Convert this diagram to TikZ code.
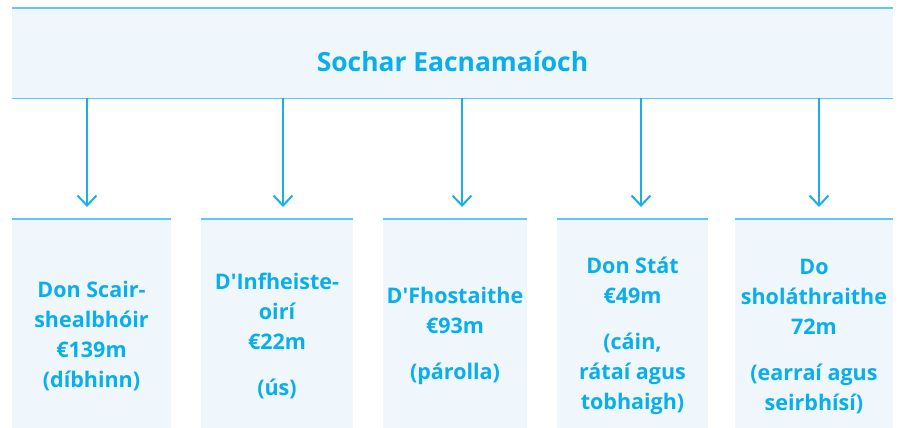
\documentclass[tikz,border=0pt]{standalone}
\usepackage{fontspec}
\setmainfont{Open Sans}[Ligatures=TeXOff]
\usetikzlibrary{arrows.meta}
\definecolor{boxfill}{HTML}{EFF7FD}
\definecolor{edge}{HTML}{5CC9F2}
\definecolor{arrowc}{HTML}{1CAEE8}
\definecolor{txt}{HTML}{0AAEEB}
\tikzset{
  topbox/.style={fill=boxfill, draw=none, minimum width=881pt, minimum height=90pt, anchor=north west, inner sep=0pt},
  lowbox/.style={fill=boxfill, draw=none, anchor=north, minimum height=234pt, inner sep=0pt, align=center, text=txt,
     font=\bfseries\fontsize{21.5}{30}\selectfont},
  edgeline/.style={draw=edge, line width=1.5pt},
  flow/.style={draw=arrowc, line width=2pt, -{Straight Barb[length=10pt,width=19pt,line width=2pt]}},
}
\begin{document}
\begin{tikzpicture}[x=1pt,y=-1pt]
\useasboundingbox (0,0) rectangle (898,428);
\clip (0,0) rectangle (898,428);
\node[topbox] (top) at (12,8) {};
\draw[edgeline] (top.north west) -- (top.north east);
\draw[edgeline] (top.south west) -- (top.south east);
\node[anchor=base, text=txt, font=\bfseries\fontsize{26.4}{30}\selectfont] (title) at (452.5,72) {Sochar Eacnamaíoch};

\node[lowbox, minimum width=159pt] (b1) at (91.5,219) {Don Scair-\\shealbhóir\\€139m\\(díbhinn)};
\node[lowbox, minimum width=152pt] (b2) at (277,219) {D'Infheiste-\\oirí\\€22m\\[16pt](ús)};
\node[lowbox, minimum width=144pt] (b3) at (455,219) {D'Fhostaithe\\€93m\\[16pt](párolla)};
\node[lowbox, minimum width=151pt] (b4) at (632.5,219) {Don Stát\\€49m\\[16pt](cáin,\\rátaí agus\\tobhaigh)};
\node[lowbox, minimum width=158pt] (b5) at (814,219) {Do\\sholáthraithe\\72m\\[16pt](earraí agus\\seirbhísí)};
\foreach \b in {b1,b2,b3,b4,b5}{
  \draw[edgeline] (\b.north west) -- (\b.north east);
}
\coordinate (e1) at (87,207);
\coordinate (e2) at (283,207);
\coordinate (e3) at (462,207);
\coordinate (e4) at (641,207);
\coordinate (e5) at (819,207);
\foreach \e in {e1,e2,e3,e4,e5}{
  \draw[flow] (top.south -| \e) -- (\e);
}
\end{tikzpicture}
\end{document}
